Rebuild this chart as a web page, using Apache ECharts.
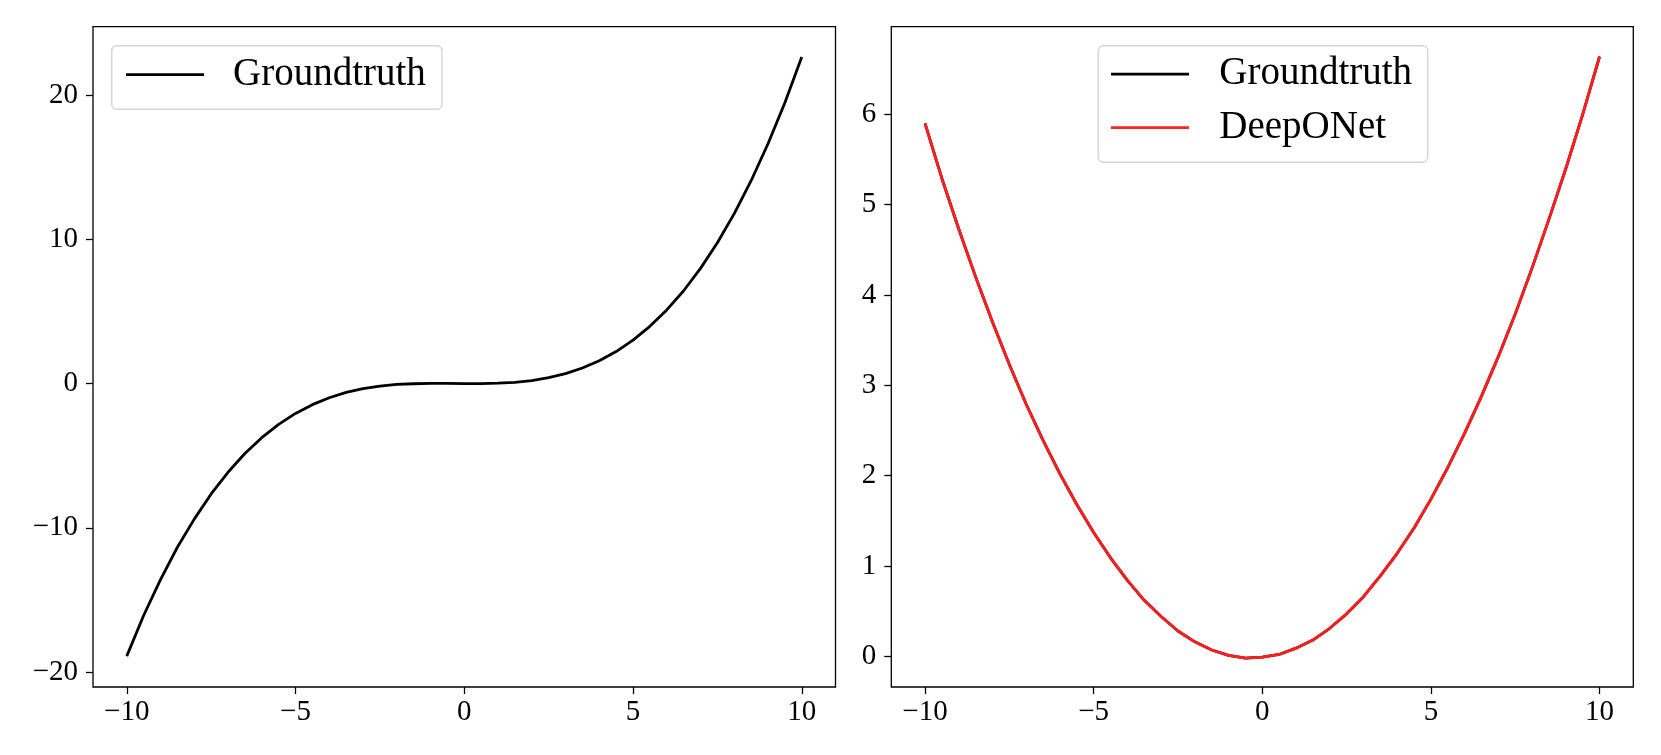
<!DOCTYPE html>
<html>
<head>
<meta charset="utf-8">
<script src="https://cdn.jsdelivr.net/npm/echarts@6/dist/echarts.min.js"></script>
<style>
html, body { margin: 0; padding: 0; background: #fff; }
#chart { width: 1661px; height: 755px; }
</style>
</head>
<body>
<div id="chart"></div>
<script>
// x samples shared by both panels (step 0.5)
var xs = [-10, -9.5, -9, -8.5, -8, -7.5, -7, -6.5, -6, -5.5, -5, -4.5, -4, -3.5, -3, -2.5, -2, -1.5, -1, -0.5,
	0, 0.5, 1, 1.5, 2, 2.5, 3, 3.5, 4, 4.5, 5, 5.5, 6, 6.5, 7, 7.5, 8, 8.5, 9, 9.5, 10];
// left panel: groundtruth u(x)
var leftTruth = [-18.9, -16.08, -13.6, -11.35, -9.4, -7.65, -6.15, -4.85, -3.75, -2.83, -2.07, -1.46, -0.98, -0.61,
	-0.35, -0.17, -0.06, -0.01, 0.01, 0.01, 0.0, 0.0, 0.03, 0.09, 0.21, 0.41, 0.69, 1.08, 1.58, 2.22, 3.01,
	3.97, 5.11, 6.44, 7.99, 9.77, 11.79, 14.07, 16.63, 19.48, 22.65];
// right panel: groundtruth and DeepONet prediction (overlapping)
var rightTruth = [5.9, 5.29, 4.73, 4.2, 3.7, 3.23, 2.79, 2.39, 2.02, 1.68, 1.37, 1.09, 0.84, 0.62, 0.44, 0.28,
	0.16, 0.07, 0.01, -0.02, -0.01, 0.02, 0.09, 0.18, 0.31, 0.47, 0.66, 0.89, 1.14, 1.42, 1.74, 2.09, 2.47,
	2.88, 3.32, 3.79, 4.3, 4.84, 5.4, 6.0, 6.64];
var deepOnet = [5.9, 5.29, 4.73, 4.2, 3.7, 3.23, 2.79, 2.39, 2.02, 1.68, 1.37, 1.09, 0.84, 0.62, 0.44, 0.28,
	0.16, 0.07, 0.01, -0.02, -0.01, 0.02, 0.09, 0.18, 0.31, 0.47, 0.66, 0.89, 1.14, 1.42, 1.74, 2.09, 2.47,
	2.88, 3.32, 3.79, 4.3, 4.84, 5.4, 6.0, 6.64];

var xTicks = [-10, -5, 0, 5, 10];
var leftYTicks = [-20, -10, 0, 10, 20];
var rightYTicks = [0, 1, 2, 3, 4, 5, 6];

var serif = '"Liberation Serif", "DejaVu Serif", serif';

function pairs(x, y) {
	var out = [];
	for (var i = 0; i < x.length; i++) {
		out.push([x[i], y[i]]);
	}
	return out;
}

function fmt(v) {
	return String(v).replace('-', '\u2212');
}

function makeAxis(idx, min, max, ticks, isY) {
	return {
		type: 'value',
		gridIndex: idx,
		min: min,
		max: max,
		axisLine: { show: false, onZero: false },
		splitLine: { show: false },
		axisTick: {
			show: true,
			inside: false,
			length: 7,
			customValues: ticks,
			lineStyle: { color: '#000', width: 1.3 }
		},
		axisLabel: {
			customValues: ticks,
			formatter: fmt,
			color: '#000',
			fontFamily: serif,
			fontSize: 29,
			margin: isY ? 15 : 11
		}
	};
}

function makeLegend(left, names, pad, textPad) {
	return {
		orient: 'vertical',
		left: left,
		top: 45.7,
		data: names,
		selectedMode: false,
		icon: 'rect',
		itemWidth: 78,
		itemHeight: 2.8,
		itemGap: 13.4,
		padding: pad,
		borderColor: '#d6d6d6',
		borderWidth: 1.5,
		borderRadius: 5,
		backgroundColor: 'rgba(255,255,255,0.8)',
		textStyle: {
			color: '#000',
			fontFamily: serif,
			fontSize: 39,
			lineHeight: 34,
			width: 195,
			padding: [6, 0, 0, textPad]
		}
	};
}

function line(name, color, xi, data) {
	return {
		name: name,
		type: 'line',
		xAxisIndex: xi,
		yAxisIndex: xi,
		data: pairs(xs, data),
		showSymbol: false,
		symbol: 'none',
		color: color,
		lineStyle: { color: color, width: 2.8, join: 'round' }
	};
}

var chart = echarts.init(document.getElementById('chart'));
var option = {
	animation: false,
	backgroundColor: '#fff',
	grid: [
		{ left: 93, top: 26.7, width: 742.5, height: 660.3, show: true, borderColor: '#000', borderWidth: 1.3 },
		{ left: 891.3, top: 26.7, width: 742, height: 660.3, show: true, borderColor: '#000', borderWidth: 1.3 }
	],
	xAxis: [
		makeAxis(0, -11, 11, xTicks, false),
		makeAxis(1, -11, 11, xTicks, false)
	],
	yAxis: [
		makeAxis(0, -21.04, 24.75, leftYTicks, true),
		makeAxis(1, -0.34, 6.97, rightYTicks, true)
	],
	legend: [
		makeLegend(111.7, ['Groundtruth'], [9, 14, 14.6, 14.3], 24),
		makeLegend(1098.3, ['Groundtruth', 'DeepONet'], [8.5, 13.4, 14.7, 12.7], 25.3)
	],
	series: [
		line('Groundtruth', '#000', 0, leftTruth),
		line('Groundtruth', '#000', 1, rightTruth),
		line('DeepONet', '#ff1f1f', 1, deepOnet)
	]
};
chart.setOption(option);

window.addEventListener('resize', function() {
	chart.resize();
});
</script>
</body>
</html>
